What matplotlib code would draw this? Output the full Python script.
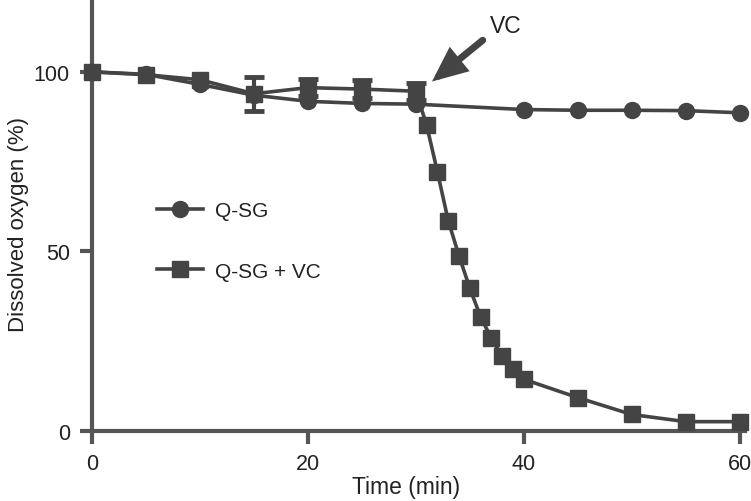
import matplotlib
matplotlib.use("Agg")
import matplotlib.pyplot as plt

plt.rcParams['font.family'] = ['Liberation Sans', 'DejaVu Sans']

# Data
qsg_t = [0, 5, 10, 15, 20, 25, 30, 40, 45, 50, 55, 60]
qsg_v = [100, 99.3, 96.5, 93.5, 91.8, 91.2, 91.0, 89.5, 89.3, 89.3, 89.2, 88.6]

vc_t = [0, 5, 10, 15, 20, 25, 30, 31, 32, 33, 34, 35, 36, 37, 38, 39, 40, 45, 50, 55, 60]
vc_v = [100, 99.2, 97.8, 93.9, 95.6, 95.2, 94.6, 85.2, 72.2, 58.6, 48.8, 39.8, 31.8, 25.8, 20.8, 17.4, 14.4, 9.3, 4.6, 2.6, 2.6]

err_t = [15, 20, 25, 30]
err_v = [93.9, 95.6, 95.2, 94.6]
err_e = [4.8, 2.4, 2.4, 2.4]

x_ticks = [0, 20, 40, 60]
y_ticks = [0, 50, 100]

col = '#444444'
axcol = '#555555'
txtcol = '#222222'
fs = 15.5

fig = plt.figure(figsize=(7.51, 5.02), dpi=100)
ax = fig.add_axes([92/751, 70/502, (745-92)/751, 431/502])

ax.plot(qsg_t, qsg_v, '-o', color=col, lw=2.6, ms=11.5, label='Q-SG', clip_on=False, zorder=3)
ax.errorbar(err_t, err_v, yerr=err_e, fmt='none', ecolor=col, elinewidth=3,
            capsize=7.5, capthick=3.5, clip_on=False, zorder=4)
ax.plot(vc_t, vc_v, '-s', color=col, lw=2.6, ms=11.5, label='Q-SG + VC', clip_on=False, zorder=4)

ax.set_xlim(0, 60.5)
ax.set_ylim(0, 120)
ax.set_xticks(x_ticks)
ax.set_yticks(y_ticks)

for s in ['top', 'right']:
    ax.spines[s].set_visible(False)
for s in ['left', 'bottom']:
    ax.spines[s].set_color(axcol)
    ax.spines[s].set_linewidth(3)
ax.tick_params(direction='out', length=9, width=3, color=axcol, labelsize=fs, labelcolor=txtcol, pad=7)

ax.set_xlabel('Time (min)', fontsize=16.5, color=txtcol)
ax.xaxis.set_label_coords((406 - 92) / 653, -(476 - 432) / 431, transform=ax.transAxes)
ax.xaxis.label.set_va('top')
ax.set_ylabel('Dissolved oxygen (%)', fontsize=16, color=txtcol)
ax.yaxis.set_label_coords(-(92 - 18) / 653, (432 - 225) / 431, transform=ax.transAxes)
ax.yaxis.label.set_va('center')

ax.annotate('', xy=(31.5, 97.3), xytext=(36.2, 108.8),
            arrowprops=dict(arrowstyle='-|>,head_length=1.7,head_width=0.75', color=col, lw=5,
                            shrinkA=0, shrinkB=0, joinstyle='miter'))
ax.text(38.3, 112.8, 'VC', fontsize=16.5, color=txtcol, ha='center', va='center')

leg = ax.legend(loc='upper left', bbox_to_anchor=(157/751, 1 - 202/502), bbox_transform=fig.transFigure,
                frameon=False, fontsize=15, handlelength=2.2, handletextpad=0.6, labelspacing=2.0,
                borderpad=0, borderaxespad=0)
for t in leg.get_texts():
    t.set_color(txtcol)

fig.savefig('out.png', dpi=100)
